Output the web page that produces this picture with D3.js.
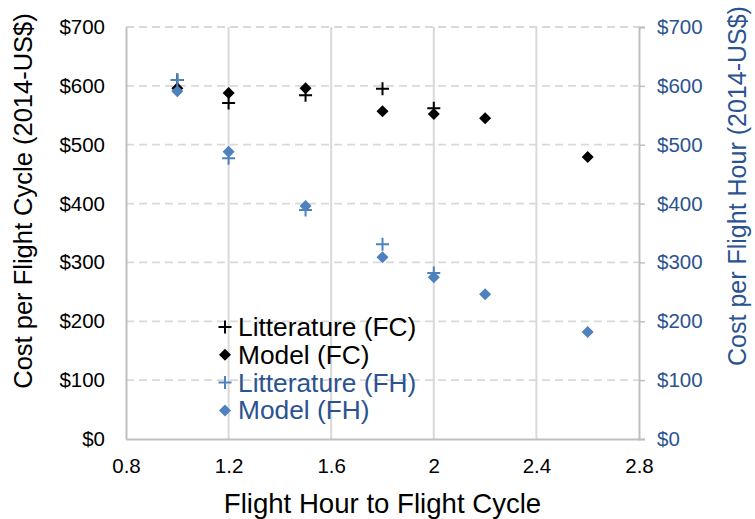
<!DOCTYPE html>
<html>
<head>
<meta charset="utf-8">
<script src="https://cdn.jsdelivr.net/npm/d3@7"></script>
<style>
  body { margin: 0; background: #fff; }
  svg { display: block; font-family: "Liberation Sans", Arial, Helvetica, sans-serif; }
</style>
</head>
<body>
<div id="chart"></div>
<script>
// ratio flight hour / flight cycle
var ratioLit = [1.0, 1.2, 1.5, 1.8, 2.0];
var ratioModel = [1.0, 1.2, 1.5, 1.8, 2.0, 2.2, 2.6];

// cost per flight cycle
var litFC = [610, 571, 584, 595, 562];
var modelFC = [596, 588, 596, 557, 552, 545, 479];
// cost per flight hour
var litFH = [610, 477, 389, 331, 282];
var modelFH = [591, 488, 396, 309, 275, 246, 182];

var xTicks = [0.8, 1.2, 1.6, 2.0, 2.4, 2.8];
var xTickLabels = ["0.8", "1.2", "1.6", "2", "2.4", "2.8"];
var yTicks = [0, 100, 200, 300, 400, 500, 600, 700];

var legendLabels = ["Litterature (FC)", "Model (FC)", "Litterature (FH)", "Model (FH)"];

var W = 755, H = 519;
var margin = {top: 27, right: 116, bottom: 80, left: 126};

var black = "#000000";
var blue = "#4f81bd";
var blueText = "#2c5391";
var gridColor = "#d9d9d9";
var axisColor = "#bfbfbf";

var svg = d3.select("#chart").append("svg")
    .attr("width", W)
    .attr("height", H);

var x = d3.scaleLinear()
    .domain([0.8, 2.8])
    .range([margin.left, W - margin.right]);
var y = d3.scaleLinear()
    .domain([0, 700])
    .range([H - margin.bottom, margin.top]);

// grid
svg.append("g").selectAll("line")
    .data(yTicks.slice(1))
    .enter().append("line")
    .attr("x1", x(0.8)).attr("x2", x(2.8))
    .attr("y1", d => y(d)).attr("y2", d => y(d))
    .attr("stroke", gridColor)
    .attr("stroke-width", 1.8)
    .attr("stroke-dasharray", "8,5");

svg.append("g").selectAll("line")
    .data(xTicks.slice(1, -1))
    .enter().append("line")
    .attr("x1", d => x(d)).attr("x2", d => x(d))
    .attr("y1", y(0)).attr("y2", y(700))
    .attr("stroke", gridColor)
    .attr("stroke-width", 2);

// axes
var xAxis = svg.append("g")
    .attr("transform", "translate(0," + y(0) + ")")
    .call(d3.axisBottom(x).tickValues(xTicks)
        .tickFormat((d, i) => xTickLabels[i])
        .tickSize(0).tickPadding(19));

var yAxisL = svg.append("g")
    .attr("transform", "translate(" + x(0.8) + ",0)")
    .call(d3.axisLeft(y).tickValues(yTicks)
        .tickFormat(d => "$" + d)
        .tickSize(0).tickPadding(21));

var yAxisR = svg.append("g")
    .attr("transform", "translate(" + x(2.8) + ",0)")
    .call(d3.axisRight(y).tickValues(yTicks)
        .tickFormat(d => "$" + d)
        .tickSize(6).tickPadding(12));

[xAxis, yAxisL, yAxisR].forEach(function (a) {
    a.select(".domain").attr("stroke", axisColor).attr("stroke-width", 2);
    a.selectAll(".tick line").attr("stroke", axisColor).attr("stroke-width", 1.5);
    a.selectAll("text").style("font-size", "20.5px").attr("fill", black);
});
yAxisR.selectAll("text").attr("fill", blueText);

// axis titles
svg.append("text")
    .attr("x", (x(0.8) + x(2.8)) / 2)
    .attr("y", 513)
    .attr("text-anchor", "middle")
    .style("font-size", "27.6px")
    .text("Flight Hour to Flight Cycle");

svg.append("text")
    .attr("transform", "translate(32,201) rotate(-90)")
    .attr("text-anchor", "middle")
    .style("font-size", "25.5px")
    .text("Cost per Flight Cycle (2014-US$)");

svg.append("text")
    .attr("transform", "translate(746,186) rotate(-90)")
    .attr("text-anchor", "middle")
    .style("font-size", "25px")
    .attr("fill", blueText)
    .text("Cost per Flight Hour (2014-US$)");

// markers
var plusPath = "M-6.5,0H6.5M0,-6.5V6.5";
var diamondPath = "M0,-6L6,0L0,6L-6,0Z";

function plusSeries(xs, ys, color) {
    svg.append("g").selectAll("path")
        .data(ys)
        .enter().append("path")
        .attr("d", plusPath)
        .attr("transform", (d, i) => "translate(" + x(xs[i]) + "," + y(d) + ")")
        .attr("fill", "none")
        .attr("stroke", color)
        .attr("stroke-width", 2);
}
function diamondSeries(xs, ys, color) {
    svg.append("g").selectAll("path")
        .data(ys)
        .enter().append("path")
        .attr("d", diamondPath)
        .attr("transform", (d, i) => "translate(" + x(xs[i]) + "," + y(d) + ")")
        .attr("fill", color);
}

plusSeries(ratioLit, litFC, black);
diamondSeries(ratioModel, modelFC, black);
plusSeries(ratioLit, litFH, blue);
diamondSeries(ratioModel, modelFH, blue);

// legend
var legend = svg.append("g").attr("transform", "translate(225,327)");
var legendColors = [black, black, blue, blue];
var legendText = [black, black, blueText, blueText];
var legendShape = [plusPath, diamondPath, plusPath, diamondPath];

var rows = legend.selectAll("g")
    .data(legendLabels)
    .enter().append("g")
    .attr("transform", (d, i) => "translate(0," + (i * 27.8) + ")");

rows.append("path")
    .attr("d", (d, i) => legendShape[i])
    .attr("fill", (d, i) => i % 2 ? legendColors[i] : "none")
    .attr("stroke", (d, i) => i % 2 ? "none" : legendColors[i])
    .attr("stroke-width", 2);

rows.append("text")
    .attr("x", 13)
    .attr("y", 9)
    .style("font-size", "26.3px")
    .attr("fill", (d, i) => legendText[i])
    .text(d => d);
</script>
</body>
</html>
